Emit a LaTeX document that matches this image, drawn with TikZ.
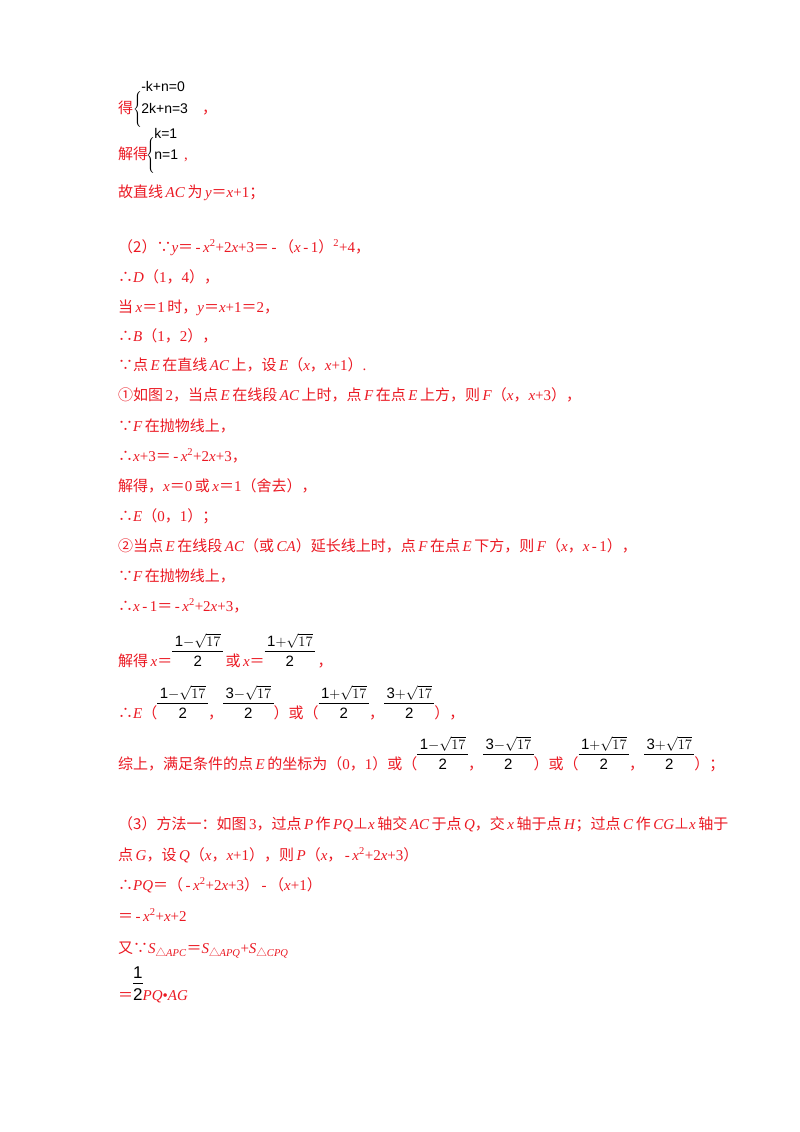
\documentclass[tikz,border=0pt]{standalone}
\usepackage{fontspec}
\setmainfont{Liberation Serif}
\newfontfamily\cjkf{Noto Sans CJK SC}
\newfontfamily\arl{Liberation Sans}
\definecolor{rd}{RGB}{235,25,35}
\newcommand\zh[1]{{\cjkf #1}}
\newcommand\mi[1]{\textit{#1}}
\newcommand\mn{\,-\,}
\newcommand\sq{\textsuperscript{2}}
\newcommand\pp{\zh{⊥}}
\newcommand\fr[2]{{\color{black}\arl\begin{tabular}[b]{@{\,}c@{\,}}#1\\[-1pt]\hline\rule{0pt}{15pt}#2\end{tabular}}}
\newcommand\fra{\fr{1$-\sqrt{17}$}{2}}
\newcommand\frb{\fr{3$-\sqrt{17}$}{2}}
\newcommand\frc{\fr{1$+\sqrt{17}$}{2}}
\newcommand\frd{\fr{3$+\sqrt{17}$}{2}}
\newcommand\brc{$\left\{\rule[-9pt]{0pt}{30pt}\right.$}
\begin{document}
\begin{tikzpicture}[x=1pt,y=-1pt,
  ln/.style={anchor=base west,inner sep=0pt,text=rd,font=\fontsize{15}{17}\selectfont},
  sy/.style={anchor=base west,inner sep=0pt,font=\arl\fontsize{14}{16}\selectfont}]
\useasboundingbox[fill=white] (0,0) rectangle (800,1132);
% systems
\node[ln] (a1) at (118,113) {\zh{得}};
\node[sy] (s1) at (133,113) {\brc\hspace{-2pt}\begin{tabular}[b]{@{}l@{}}-k+n=0\\[5pt]2k+n=3\end{tabular}};
\node[ln] (a2) at (202,113) {\zh{，}};
\node[ln] (b1) at (118,159) {\zh{解得}};
\node[sy] (s2) at (146,159) {\brc\hspace{-2pt}\begin{tabular}[b]{@{}l@{}}k=1\\[5pt]n=1\end{tabular}};
\node[ln] (b2) at (184,159) {,};
\node[ln] (l1) at (118,197) {\zh{故直线}\,\mi{AC}\,\zh{为}\,\mi{y}\zh{＝}\mi{x}+1\zh{；}};
\node[ln] (l2) at (118,252) {\zh{（2）∵}\mi{y}\zh{＝}\mn\mi{x}\sq+2\mi{x}+3\zh{＝}\mn\zh{（}\mi{x}\mn 1\zh{）}\sq+4\zh{，}};
\node[ln] (l3) at (118,282) {\zh{∴}\mi{D}\zh{（}1\zh{，}4\zh{），}};
\node[ln] (l4) at (118,312) {\zh{当}\,\mi{x}\zh{＝}1\,\zh{时，}\mi{y}\zh{＝}\mi{x}+1\zh{＝}2\zh{，}};
\node[ln] (l5) at (118,341) {\zh{∴}\mi{B}\zh{（}1\zh{，}2\zh{），}};
\node[ln] (l6) at (118,370) {\zh{∵点}\,\mi{E}\,\zh{在直线}\,\mi{AC}\,\zh{上，设}\,\mi{E}\zh{（}\mi{x}\zh{，}\mi{x}+1\zh{）}.};
\node[ln] (l7) at (118,400) {\zh{①如图}\,2\zh{，当点}\,\mi{E}\,\zh{在线段}\,\mi{AC}\,\zh{上时，点}\,\mi{F}\,\zh{在点}\,\mi{E}\,\zh{上方，则}\,\mi{F}\zh{（}\mi{x}\zh{，}\mi{x}+3\zh{），}};
\node[ln] (l8) at (118,431) {\zh{∵}\mi{F}\,\zh{在抛物线上，}};
\node[ln] (l9) at (118,461) {\zh{∴}\mi{x}+3\zh{＝}\mn\mi{x}\sq+2\mi{x}+3\zh{，}};
\node[ln] (l10) at (118,491) {\zh{解得，}\mi{x}\zh{＝}0\,\zh{或}\,\mi{x}\zh{＝}1\zh{（舍去），}};
\node[ln] (l11) at (118,521) {\zh{∴}\mi{E}\zh{（}0\zh{，}1\zh{）；}};
\node[ln] (l12) at (118,551) {\zh{②当点}\,\mi{E}\,\zh{在线段}\,\mi{AC}\zh{（或}\,\mi{CA}\zh{）延长线上时，点}\,\mi{F}\,\zh{在点}\,\mi{E}\,\zh{下方，则}\,\mi{F}\zh{（}\mi{x}\zh{，}\mi{x}\mn 1\zh{），}};
\node[ln] (l13) at (118,581) {\zh{∵}\mi{F}\,\zh{在抛物线上，}};
\node[ln] (l14) at (118,611) {\zh{∴}\mi{x}\mn 1\zh{＝}\mn\mi{x}\sq+2\mi{x}+3\zh{，}};
\node[ln] (l15) at (118,666) {\zh{解得}\,\mi{x}\zh{＝}\fra\,\zh{或}\,\mi{x}\zh{＝}\frc\,\zh{，}};
\node[ln] (l16) at (118,718) {\zh{∴}\mi{E}\zh{（}\fra\zh{，}\frb\zh{）或（}\frc\zh{，}\frd\zh{），}};
\node[ln] (l17) at (118,769) {\zh{综上，满足条件的点}\,\mi{E}\,\zh{的坐标为（}0\zh{，}1\zh{）或（}\fra\zh{，}\frb\zh{）或（}\frc\zh{，}\frd\zh{）；}};
\node[ln] (l18) at (118,829) {\zh{（3）方法一：如图}\,3\zh{，过点}\,\mi{P}\,\zh{作}\,\mi{PQ}\pp\mi{x}\,\zh{轴交}\,\mi{AC}\,\zh{于点}\,\mi{Q}\zh{，交}\,\mi{x}\,\zh{轴于点}\,\mi{H}\zh{；过点}\,\mi{C}\,\zh{作}\,\mi{CG}\pp\mi{x}\,\zh{轴于}};
\node[ln] (l19) at (118,860) {\zh{点}\,\mi{G}\zh{，设}\,\mi{Q}\zh{（}\mi{x}\zh{，}\mi{x}+1\zh{），则}\,\mi{P}\zh{（}\mi{x}\zh{，}\mn\mi{x}\sq+2\mi{x}+3\zh{）}};
\node[ln] (l20) at (118,890) {\zh{∴}\mi{PQ}\zh{＝（}\mn\mi{x}\sq+2\mi{x}+3\zh{）}\mn\zh{（}\mi{x}+1\zh{）}};
\node[ln] (l21) at (118,921) {\zh{＝}\mn\mi{x}\sq+\mi{x}+2};
\node[ln] (l22) at (118,953) {\zh{又∵}\mi{S}\textsubscript{\zh{△}\mi{APC}}\zh{＝}\mi{S}\textsubscript{\zh{△}\mi{APQ}}+\mi{S}\textsubscript{\zh{△}\mi{CPQ}}};
\node[ln] (l23) at (118,1000) {\zh{＝}{\color{black}\arl\fontsize{17}{19}\selectfont\begin{tabular}[b]{@{}c@{}}1\\[-2pt]\hline\rule{0pt}{17pt}2\end{tabular}}\mi{PQ}•\mi{AG}};
\end{tikzpicture}
\end{document}
